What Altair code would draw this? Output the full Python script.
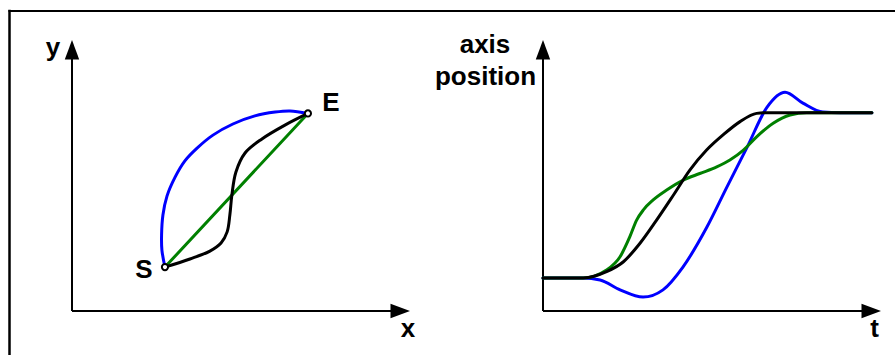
import altair as alt
import pandas as pd

# ---------------- left panel: three paths from S to E in the x-y plane ----------------
arc_x = [2.75, 2.66, 2.65, 2.69, 2.81, 3.05, 3.34, 3.70, 4.17, 4.76, 5.41, 6.01, 6.45, 6.98]
arc_y = [1.62, 2.25, 2.80, 3.54, 4.24, 4.94, 5.54, 6.01, 6.49, 6.90, 7.20, 7.34, 7.38, 7.29]
straight_x = [2.75, 6.98]
straight_y = [1.62, 7.29]
scurve_x = [2.75, 3.49, 4.08, 4.41, 4.59, 4.67, 4.73, 4.85, 5.12, 5.62, 6.30, 6.98]
scurve_y = [1.62, 1.92, 2.21, 2.51, 2.92, 3.54, 4.28, 5.13, 5.83, 6.35, 6.86, 7.29]
endpoint_names = ["S", "E"]
endpoint_x = [2.75, 6.98]
endpoint_y = [1.62, 7.29]

# ---------------- right panel: axis position over time ----------------
t_blue = [0, 1.18, 1.69, 2.28, 2.96, 3.55, 4.14, 4.85, 5.44, 6.04, 6.63, 7.16, 7.69, 8.28, 8.79, 9.73]
pos_blue = [1.0, 1.0, 0.94, 0.64, 0.42, 0.64, 1.33, 2.54, 3.75, 4.96, 6.17, 6.62, 6.29, 6.02, 6.0, 6.0]
t_green = [0, 1.19, 1.88, 2.28, 2.57, 2.77, 2.97, 3.26, 3.66, 4.15, 4.64, 5.14, 5.53, 5.93,
           6.32, 6.81, 7.31, 7.80, 9.73]
pos_green = [1.0, 1.0, 1.24, 1.64, 2.25, 2.75, 3.06, 3.36, 3.66, 3.96, 4.16, 4.36, 4.57, 4.87,
             5.27, 5.68, 5.93, 6.0, 6.0]
t_black = [0, 1.19, 1.88, 2.38, 2.87, 3.36, 3.86, 4.35, 4.84, 5.33, 5.83, 6.32, 6.62, 9.73]
pos_black = [1.0, 1.0, 1.19, 1.49, 2.05, 2.75, 3.51, 4.27, 4.87, 5.33, 5.73, 5.98, 6.0, 6.0]

# axis extents of both panels
xy_max_x, xy_max_y = 10, 10
time_max, pos_max = 10, 8.2

BLUE, GREEN, BLACK = "#0000ff", "#008000", "#000000"
FONT = "Liberation Sans"
FS = 26

# panel placement on the page (pixel ranges of each scale)
LX = alt.Scale(domain=[0, xy_max_x], range=[72, 410], nice=False, zero=False)
LY = alt.Scale(domain=[0, xy_max_y], range=[311, 40], nice=False, zero=False)
RX = alt.Scale(domain=[0, time_max], range=[543, 881], nice=False, zero=False)
RY = alt.Scale(domain=[0, pos_max], range=[311, 40], nice=False, zero=False)

ARROW_RIGHT = "M0,0L-1,-0.37L-1,0.37Z"
ARROW_UP = "M0,0L-0.37,1L0.37,1Z"


def path_df(xs, ys):
    return pd.DataFrame({"x": xs, "y": ys, "i": range(len(xs))})


def curve(xs, ys, color, interp, sx, sy):
    return alt.Chart(path_df(xs, ys)).mark_line(
        color=color, strokeWidth=3, interpolate=interp,
        strokeCap="round", strokeJoin="round"
    ).encode(
        x=alt.X("x:Q", scale=sx, axis=None),
        y=alt.Y("y:Q", scale=sy, axis=None),
        order="i:Q",
    )


def label(df, sx, sy, dx, dy, field="txt"):
    return alt.Chart(df).mark_text(
        font=FONT, fontSize=FS, fontWeight="bold", align="center",
        baseline="alphabetic", dx=dx, dy=dy, color=BLACK
    ).encode(x=alt.X("x:Q", scale=sx, axis=None), y=alt.Y("y:Q", scale=sy, axis=None),
             text=f"{field}:N")


def axes(sx, sy, max_x, max_y, x_name, x_dx, x_dy):
    # axis lines stop under the arrowheads
    lines = pd.DataFrame({"x": [0, 0], "y": [0, 0],
                          "x2": [max_x * 0.975, 0], "y2": [0, max_y * 0.965]})
    tips = pd.DataFrame({"x": [max_x, 0], "y": [0, max_y], "dir": ["right", "up"]})
    rule = alt.Chart(lines).mark_rule(color=BLACK, strokeWidth=2).encode(
        x=alt.X("x:Q", scale=sx, axis=None), y=alt.Y("y:Q", scale=sy, axis=None),
        x2="x2:Q", y2="y2:Q")
    heads = alt.Chart(tips).mark_point(
        filled=True, color=BLACK, size=1521, opacity=1, strokeWidth=0
    ).encode(
        x=alt.X("x:Q", scale=sx, axis=None), y=alt.Y("y:Q", scale=sy, axis=None),
        shape=alt.Shape("dir:N", scale=alt.Scale(domain=["right", "up"],
                                                 range=[ARROW_RIGHT, ARROW_UP]),
                        legend=None))
    xlabel = label(pd.DataFrame({"x": [max_x], "y": [0], "txt": [x_name]}),
                   sx, sy, x_dx, x_dy)
    return rule, heads, xlabel


def ylabel(sx, sy, max_y, txt, dx, dy):
    return label(pd.DataFrame({"x": [0], "y": [max_y], "txt": [txt]}), sx, sy, dx, dy)


# ---------------- left panel ----------------
l_rule, l_heads, l_xlabel = axes(LX, LY, xy_max_x, xy_max_y, "x", -2, 26)
ends = pd.DataFrame({"name": endpoint_names, "x": endpoint_x, "y": endpoint_y})
end_marks = alt.Chart(ends).mark_point(
    shape="circle", filled=True, fill="white", stroke=BLACK, strokeWidth=2,
    size=38, opacity=1
).encode(x=alt.X("x:Q", scale=LX, axis=None), y=alt.Y("y:Q", scale=LY, axis=None))
s_label = label(ends[ends["name"] == "S"], LX, LY, -21, 11, field="name")
e_label = label(ends[ends["name"] == "E"], LX, LY, 23, -2, field="name")

left = alt.layer(
    l_rule, l_heads, l_xlabel,
    ylabel(LX, LY, xy_max_y, "y", -19, 16),
    curve(arc_x, arc_y, BLUE, "catmull-rom", LX, LY),
    curve(straight_x, straight_y, GREEN, "linear", LX, LY),
    curve(scurve_x, scurve_y, BLACK, "catmull-rom", LX, LY),
    end_marks, s_label, e_label,
)

# ---------------- right panel ----------------
r_rule, r_heads, r_xlabel = axes(RX, RY, time_max, pos_max, "t", -6.5, 26)
right = alt.layer(
    r_rule, r_heads, r_xlabel,
    ylabel(RX, RY, pos_max, "axis", -58, 13),
    ylabel(RX, RY, pos_max, "position", -57.5, 45),
    curve(t_blue, pos_blue, BLUE, "monotone", RX, RY),
    curve(t_green, pos_green, GREEN, "monotone", RX, RY),
    curve(t_black, pos_black, BLACK, "monotone", RX, RY),
)

# ---------------- outer frame (top and left edges) ----------------
one = pd.DataFrame({"k": [0]})
frame_top = alt.Chart(one).mark_rule(color=BLACK, strokeWidth=2, strokeCap="square").encode(
    x=alt.value(9.5), x2=alt.value(905), y=alt.value(11))
frame_left = alt.Chart(one).mark_rule(color=BLACK, strokeWidth=2.5, strokeCap="square").encode(
    x=alt.value(9.5), y=alt.value(11), y2=alt.value(365))

chart = alt.layer(frame_top, frame_left, left, right).resolve_scale(
    x="independent", y="independent"
).properties(
    width=895, height=355, padding=0,
    autosize=alt.AutoSizeParams(type="none"),
    background="white",
).configure_view(stroke=None)

chart.save("out.html", embed_options={"renderer": "svg", "actions": False})
